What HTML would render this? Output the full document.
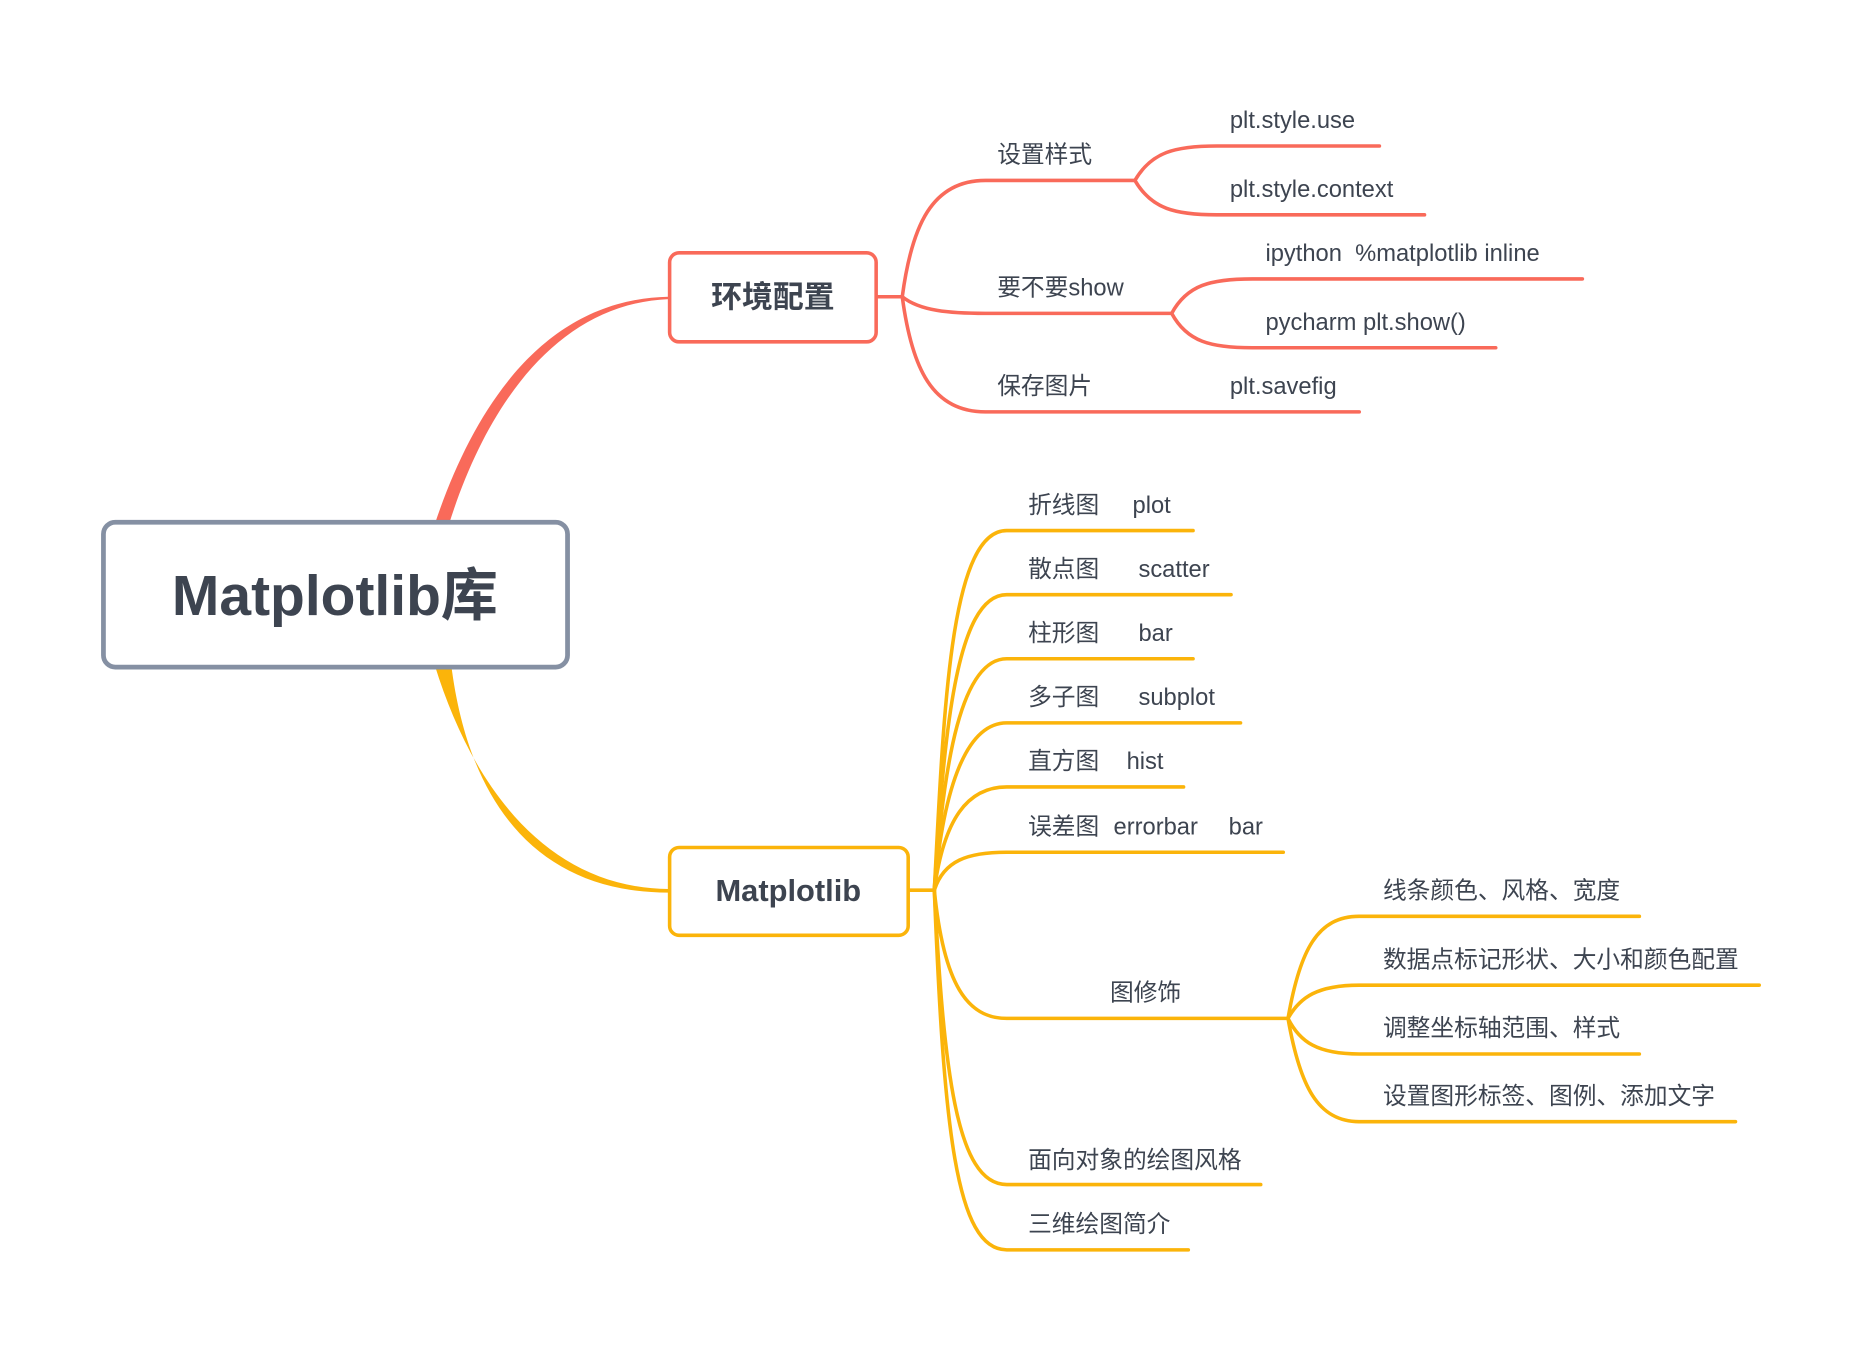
<!DOCTYPE html>
<html><head><meta charset="utf-8"><style>
html,body{margin:0;padding:0;background:#fff;}
svg{display:block;}
text{font-family:"Liberation Sans","Noto Sans CJK SC",sans-serif;fill:#3d4450;}
</style></head><body>
<svg width="1852" height="1346" viewBox="0 0 1560 1134" xmlns="http://www.w3.org/2000/svg">
<rect width="1560" height="1134" fill="#fff"/>
<path d="M366 442 C400 340 460 252 563 250 L563 252 C470 256 410 340 378 442 Z" fill="#f96a5a"/>
<path d="M366 560 C400 670 465 748 563 749 L563 752 C455 752 395 680 380 560 Z" fill="#fbb40a"/>
<g fill="none" stroke-width="3" stroke-linecap="round">
<g stroke="#f96a5a">
<path d="M738 250 L760 250"/>
<path d="M760 250 C768 190 785 152 830 152 L956 152"/>
<path d="M760 250 C775 262 800 264 830 264 L987 264"/>
<path d="M760 250 C768 310 785 347 830 347 L1145 347"/>
<path d="M956 152 C970 128 990 123 1025 123 L1162 123"/>
<path d="M956 152 C970 176 990 181 1025 181 L1200 181"/>
<path d="M987 264 C1000 240 1020 235 1055 235 L1333 235"/>
<path d="M987 264 C1000 288 1020 293 1055 293 L1260 293"/>
</g>
<g stroke="#fbb40a">
<path d="M765 750 L787 750"/>
<path d="M787 750 C795 600 800 447 848 447 L1005 447"/>
<path d="M787 750 C795 620 805 501 848 501 L1037 501"/>
<path d="M787 750 C795 640 810 555 848 555 L1005 555"/>
<path d="M787 750 C795 660 815 609 848 609 L1045 609"/>
<path d="M787 750 C795 690 815 663 848 663 L997 663"/>
<path d="M787 750 C795 725 815 718 848 718 L1081 718"/>
<path d="M787 750 C795 830 815 858 848 858 L1085 858"/>
<path d="M787 750 C795 900 805 998 848 998 L1062 998"/>
<path d="M787 750 C795 950 805 1053 848 1053 L1001 1053"/>
<path d="M1085 858 C1095 800 1110 772 1145 772 L1381 772"/>
<path d="M1085 858 C1095 840 1110 830 1145 830 L1482 830"/>
<path d="M1085 858 C1095 878 1110 888 1145 888 L1381 888"/>
<path d="M1085 858 C1095 915 1110 945 1145 945 L1462 945"/>
</g>
</g>
<rect x="87" y="440" width="391" height="122" rx="10" fill="#fff" stroke="#8590a3" stroke-width="4"/>
<text x="282" y="518" font-size="48" text-anchor="middle" font-weight="bold">Matplotlib库</text>
<rect x="564" y="213" width="174" height="75" rx="8" fill="#fff" stroke="#f96a5a" stroke-width="3"/>
<text x="651" y="259" font-size="26" text-anchor="middle" font-weight="bold">环境配置</text>
<rect x="564" y="714" width="201" height="74" rx="8" fill="#fff" stroke="#fbb40a" stroke-width="3"/>
<text x="664" y="759" font-size="26" text-anchor="middle" font-weight="bold">Matplotlib</text>
<g font-size="20">
<text x="840" y="137">设置样式</text>
<text x="840" y="249">要不要show</text>
<text x="840" y="332">保存图片</text>
<text x="1036" y="332">plt.savefig</text>
<text x="1036" y="108">plt.style.use</text>
<text x="1036" y="166">plt.style.context</text>
<text x="1066" y="220" xml:space="preserve">ipython  %matplotlib inline</text>
<text x="1066" y="278">pycharm plt.show()</text>
<text x="866" y="432">折线图</text><text x="954" y="432">plot</text>
<text x="866" y="486">散点图</text><text x="959" y="486">scatter</text>
<text x="866" y="540">柱形图</text><text x="959" y="540">bar</text>
<text x="866" y="594">多子图</text><text x="959" y="594">subplot</text>
<text x="866" y="648">直方图</text><text x="949" y="648">hist</text>
<text x="866" y="703">误差图</text><text x="938" y="703">errorbar</text><text x="1035" y="703">bar</text>
<text x="935" y="843">图修饰</text>
<text x="866" y="984">面向对象的绘图风格</text>
<text x="866" y="1038">三维绘图简介</text>
<text x="1165" y="757">线条颜色、风格、宽度</text>
<text x="1165" y="815">数据点标记形状、大小和颜色配置</text>
<text x="1165" y="873">调整坐标轴范围、样式</text>
<text x="1165" y="930">设置图形标签、图例、添加文字</text>
</g>
</svg>
</body></html>
